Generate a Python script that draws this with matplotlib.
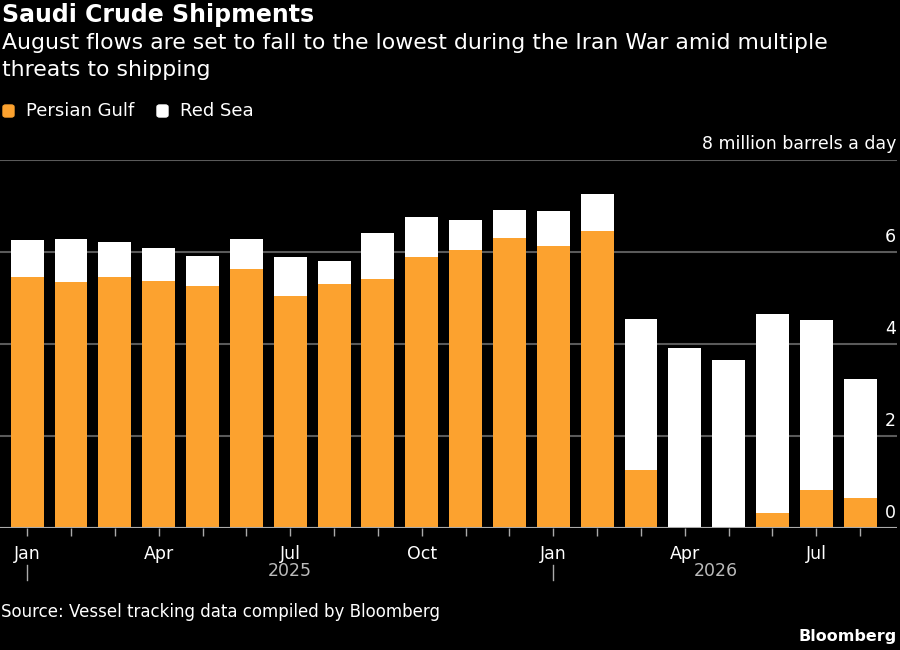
import numpy as np
import matplotlib.pyplot as plt
from matplotlib.patches import FancyBboxPatch

plt.rcParams['font.family'] = ['DejaVu Sans']

months = ['Jan', 'Feb', 'Mar', 'Apr', 'May', 'Jun', 'Jul', 'Aug', 'Sep', 'Oct', 'Nov', 'Dec',
          'Jan', 'Feb', 'Mar', 'Apr', 'May', 'Jun', 'Jul', 'Aug']
totals = [6.26, 6.28, 6.22, 6.09, 5.91, 6.28, 5.89, 5.80, 6.41, 6.76, 6.70, 6.91,
          6.89, 7.26, 4.54, 3.91, 3.65, 4.65, 4.52, 3.24]
persian_gulf = [5.46, 5.35, 5.46, 5.37, 5.26, 5.63, 5.04, 5.30, 5.41, 5.89, 6.04, 6.30,
                6.13, 6.46, 1.26, 0.0, 0.0, 0.33, 0.83, 0.65]
red_sea = [t - p for t, p in zip(totals, persian_gulf)]
yticks = [0, 2, 4, 6]
years = ['2025', '2026']

orange = '#fca22f'
bg = '#000000'
grid_col = '#5a5a5a'
txt = '#ffffff'
fs = 12.5

fig = plt.figure(figsize=(9, 6.5), dpi=100, facecolor=bg)
ax = fig.add_axes([0.0, 1 - 528 / 650, 897 / 900, (528 - 160) / 650])
ax.set_facecolor(bg)

x = np.arange(len(months))
ax.bar(x, persian_gulf, width=0.75, color=orange, zorder=3)
ax.bar(x, red_sea, width=0.75, bottom=persian_gulf, color='white', zorder=3)

ax.set_xlim(-0.62, 19.84)
ax.set_ylim(0, 8)
for s in ax.spines.values():
    s.set_visible(False)

ax.set_yticks([0, 2, 4, 6, 8])
ax.yaxis.grid(True, color=grid_col, linewidth=1.5, zorder=0)
ax.tick_params(axis='y', length=0, labelleft=False)
ax.axhline(0, color='#aaaaaa', linewidth=1.5, zorder=4)
for v in yticks:
    ax.text(0.999, v + 0.12, str(v), transform=ax.get_yaxis_transform(),
            ha='right', va='bottom', color=txt, fontsize=fs)
ax.text(0.999, 8.15, '8 million barrels a day', transform=ax.get_yaxis_transform(),
        ha='right', va='bottom', color=txt, fontsize=fs)

ax.set_xticks(x)
ax.set_xticklabels([m if m in ('Jan', 'Apr', 'Jul', 'Oct') else '' for m in months])
ax.tick_params(axis='x', length=6, width=1, color='#aaaaaa', labelcolor=txt, labelsize=fs, pad=6)

trans = ax.get_xaxis_transform()
ax.text(6, -0.118, years[0], transform=trans, ha='center', va='center', color='#bbbbbb',
        fontsize=fs, clip_on=False)
ax.text(15.7, -0.118, years[1], transform=trans, ha='center', va='center', color='#bbbbbb',
        fontsize=fs, clip_on=False)
for xi in (0, 12):
    ax.plot([xi, xi], [-0.1, -0.14], transform=trans, color='#aaaaaa', linewidth=1,
            clip_on=False)

fig.text(2 / 900, 1 - 3 / 650, 'Saudi Crude Shipments', ha='left', va='top', color=txt,
         fontsize=17, fontweight='bold')
fig.text(2 / 900, 1 - 33 / 650,
         'August flows are set to fall to the lowest during the Iran War amid multiple\nthreats to shipping',
         ha='left', va='top', color=txt, fontsize=15.8, linespacing=1.45)

for px, col in ((3, orange), (157, 'white')):
    fig.patches.append(FancyBboxPatch((px / 900, 1 - 117 / 650), 11 / 900, 12 / 650,
                                      boxstyle='round,pad=0,rounding_size=0.003',
                                      color=col, transform=fig.transFigure))
fig.text(26 / 900, 1 - 111 / 650, 'Persian Gulf', ha='left', va='center', color=txt, fontsize=13)
fig.text(180 / 900, 1 - 111 / 650, 'Red Sea', ha='left', va='center', color=txt, fontsize=13)

fig.text(1 / 900, 1 - 612 / 650, 'Source: Vessel tracking data compiled by Bloomberg',
         ha='left', va='center', color=txt, fontsize=12)
fig.text(897 / 900, 1 - 636 / 650, 'Bloomberg', ha='right', va='center', color=txt,
         fontsize=11.5, fontweight='bold')

fig.savefig('out.png', facecolor=bg)
